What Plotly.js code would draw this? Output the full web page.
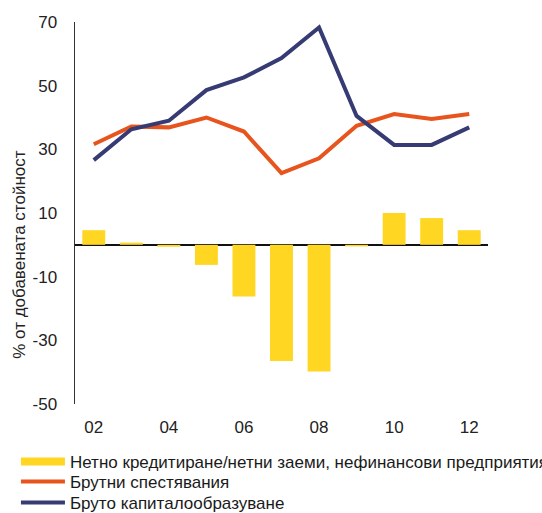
<!DOCTYPE html>
<html>
<head>
<meta charset="utf-8">
<script src="https://cdn.plot.ly/plotly-3.0.1.min.js"></script>
<style>html,body{margin:0;padding:0;background:#fff;}#chart{width:542px;height:513px;}</style>
</head>
<body>
<div id="chart"></div>
<script>
// Data (years 2002-2012)
var years = ['02','03','04','05','06','07','08','09','10','11','12'];
var netLending = [4.6, 0.7, -0.6, -6.3, -16.2, -36.5, -39.8, -0.5, 10.0, 8.4, 4.6];
var grossSavings = [31.6, 37.2, 36.9, 40.0, 35.6, 22.5, 27.2, 37.4, 41.1, 39.5, 41.1];
var grossCapital = [26.6, 36.3, 39.0, 48.6, 52.6, 58.7, 68.3, 40.5, 31.4, 31.4, 36.9];
var xTickLabels = ['02','04','06','08','10','12'];
var yTickValues = [-50, -30, -10, 10, 30, 50, 70];
var yTickLabels = ['-50', '-30', '-10', '10', '30', '50', '70'];
var seriesNames = ['Нетно кредитиране/нетни заеми, нефинансови предприятия', 'Брутни спестявания', 'Бруто капиталообразуване'];
var yTitle = '% от добавената стойност';

var cYellow = '#FFD622', cOrange = '#E8541E', cNavy = '#363B73';
var font = 'Liberation Sans, Arial, sans-serif';

var traces = [
  {type:'scatter', mode:'lines', x:[null], y:[null], name:seriesNames[0], legendgroup:'a', legend:'legend',
   line:{color:cYellow, width:8}, hoverinfo:'skip'},
  {type:'bar', x:years, y:netLending, name:seriesNames[0], legendgroup:'a', showlegend:false,
   marker:{color:cYellow}},
  {type:'scatter', mode:'lines', x:years, y:grossSavings, name:seriesNames[1], legend:'legend2',
   line:{color:cOrange, width:4}},
  {type:'scatter', mode:'lines', x:years, y:grossCapital, name:seriesNames[2], legend:'legend3',
   line:{color:cNavy, width:4}}
];

function legendAt(y) {
  return {orientation:'v', x:-0.143, xanchor:'left', y:y, yanchor:'top',
          bgcolor:'rgba(0,0,0,0)', itemwidth:44,
          font:{family:font, size:17, color:'#1a1a1a'}};
}

var layout = {
  width:542, height:513,
  margin:{l:75, r:54, t:22, b:109, autoexpand:false},
  paper_bgcolor:'#fff', plot_bgcolor:'#fff',
  bargap:0.39,
  showlegend:true,
  font:{family:font, size:17, color:'#222'},
  xaxis:{type:'category', range:[-0.5, 10.5], tickmode:'array', tickvals:xTickLabels, ticktext:xTickLabels,
         showline:false, showgrid:false, zeroline:false, ticks:'outside', ticklen:8, tickcolor:'rgba(0,0,0,0)',
         tickfont:{family:font, size:17, color:'#222'}},
  yaxis:{range:[-50, 70], tickmode:'array', tickvals:yTickValues, ticktext:yTickLabels, showgrid:false,
         showline:true, linecolor:'#333', linewidth:1.5,
         zeroline:true, zerolinecolor:'#111', zerolinewidth:1.5,
         ticks:'outside', ticklen:13, tickcolor:'rgba(0,0,0,0)',
         tickfont:{family:font, size:17, color:'#222'}},
  legend:legendAt(-0.1047),
  legend2:legendAt(-0.157),
  legend3:legendAt(-0.212),
  annotations:[{text:yTitle, textangle:-90, xref:'paper', yref:'y', x:-0.133, y:-3.1,
                xanchor:'center', yanchor:'middle', showarrow:false,
                font:{family:font, size:17, color:'#222'}}]
};

Plotly.newPlot('chart', traces, layout, {displayModeBar:false, staticPlot:true});
</script>
</body>
</html>
